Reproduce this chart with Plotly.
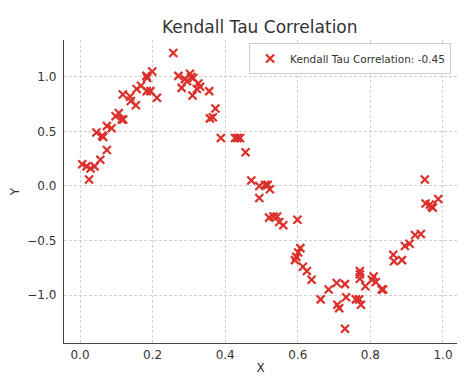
import plotly.graph_objects as go

x_vals = [0.006, 0.018, 0.029, 0.040, 0.056, 0.025, 0.074, 0.045, 0.061, 0.064,
          0.074, 0.087, 0.098, 0.107, 0.115, 0.119, 0.118, 0.138, 0.140, 0.154,
          0.156, 0.168, 0.183, 0.185, 0.199, 0.184, 0.194, 0.212, 0.257, 0.271,
          0.280, 0.289, 0.295, 0.303, 0.306, 0.310, 0.312, 0.322, 0.326, 0.331,
          0.356, 0.373, 0.358, 0.366, 0.388, 0.427, 0.434, 0.441, 0.456, 0.472,
          0.494, 0.510, 0.517, 0.523, 0.494, 0.521, 0.533, 0.543, 0.549, 0.560,
          0.599, 0.607, 0.601, 0.596, 0.592, 0.614, 0.625, 0.638, 0.663, 0.685,
          0.707, 0.730, 0.709, 0.714, 0.733, 0.730, 0.760, 0.769, 0.774, 0.771,
          0.771, 0.771, 0.786, 0.804, 0.809, 0.815, 0.831, 0.835, 0.863, 0.865,
          0.887, 0.895, 0.908, 0.923, 0.939, 0.950, 0.952, 0.964, 0.969, 0.972,
          0.987]
y_vals = [0.20, 0.18, 0.16, 0.18, 0.24, 0.06, 0.33, 0.49, 0.46, 0.45,
          0.55, 0.53, 0.64, 0.67, 0.61, 0.61, 0.84, 0.82, 0.78, 0.74,
          0.89, 0.92, 1.01, 0.99, 1.05, 0.87, 0.87, 0.81, 1.22, 1.01,
          0.90, 0.98, 0.96, 1.03, 1.00, 0.83, 0.99, 0.89, 0.94, 0.91,
          0.87, 0.71, 0.62, 0.63, 0.44, 0.44, 0.44, 0.44, 0.31, 0.05,
          0.00, 0.01, 0.01, -0.03, -0.11, -0.29, -0.28, -0.28, -0.33, -0.36,
          -0.31, -0.57, -0.61, -0.65, -0.68, -0.74, -0.78, -0.86, -1.04, -0.95,
          -0.89, -0.90, -1.09, -1.12, -1.02, -1.31, -1.04, -1.04, -1.09, -0.78,
          -0.81, -0.85, -0.92, -0.86, -0.83, -0.88, -0.95, -0.95, -0.63, -0.69,
          -0.68, -0.55, -0.53, -0.45, -0.44, 0.06, -0.16, -0.17, -0.19, -0.20,
          -0.12]

series_name = "Kendall Tau Correlation: -0.45"
title_text = "Kendall Tau Correlation"
x_ticks = [0.0, 0.2, 0.4, 0.6, 0.8, 1.0]
y_ticks = [-1.0, -0.5, 0.0, 0.5, 1.0]

fig = go.Figure()
fig.add_trace(go.Scatter(
    x=x_vals, y=y_vals, mode="markers", name=series_name,
    marker=dict(symbol="x-thin", size=8, color="#dc2f2a",
                line=dict(width=2.2, color="#dc2f2a")),
))

axis_common = dict(
    showgrid=True, gridcolor="#d0d0d0", griddash="3px,2px", gridwidth=1,
    zeroline=False, showline=True, linecolor="#444444", linewidth=1.3,
    ticks="",
    tickfont=dict(family="DejaVu Sans", size=12, color="#333333"),
    mirror=False, automargin=False,
)

# the page body adds an 8px offset; the figure is sized so the plot area lands
# at x 64..457, y 40..343 of the 476x388 window
fig.update_layout(
    width=468, height=380,
    margin=dict(l=56, r=19, t=32, b=45),
    paper_bgcolor="white", plot_bgcolor="white",
    title=dict(text=title_text, x=0.538, xanchor="center", y=0.95, yanchor="middle",
               font=dict(family="DejaVu Sans", size=17, color="#333333")),
    showlegend=True,
    legend=dict(x=0.985, y=0.99, xanchor="right", yanchor="top",
                bgcolor="rgba(255,255,255,0.8)", bordercolor="#cccccc", borderwidth=1,
                font=dict(family="DejaVu Sans", size=10.5, color="#333333")),
    xaxis=dict(range=[-0.0441, 1.0386], tickvals=x_ticks, tickformat=".1f",
               ticklabelstandoff=0,
               title=dict(text="X", standoff=3,
                          font=dict(family="DejaVu Sans", size=12, color="#333333")),
               **axis_common),
    yaxis=dict(range=[-1.440, 1.339], tickvals=y_ticks, tickformat=".1f",
               ticklabelstandoff=4,
               title=dict(text="Y", standoff=7,
                          font=dict(family="DejaVu Sans", size=12, color="#333333")),
               **axis_common),
)

fig.write_html("out.html")
